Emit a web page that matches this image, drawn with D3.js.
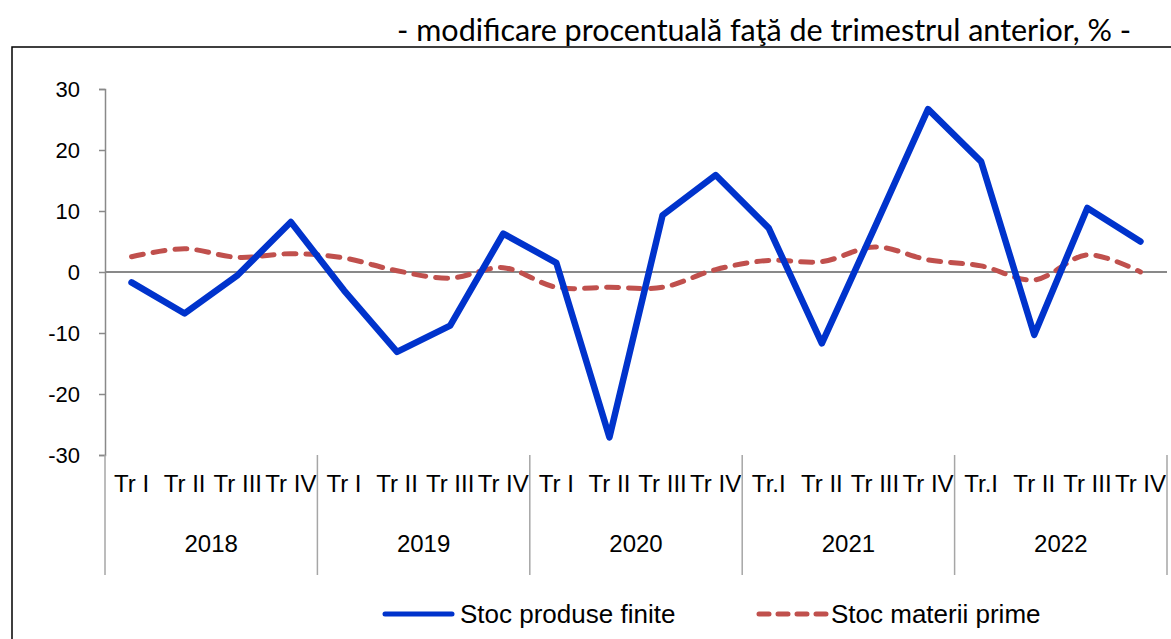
<!DOCTYPE html>
<html lang="ro">
<head>
<meta charset="utf-8">
<title>Stocuri</title>
<script src="https://d3js.org/d3.v7.min.js"></script>
<style>
  body { margin: 0; background: #fff; }
  svg { display: block; }
</style>
</head>
<body>
<svg id="chart" width="1171" height="639"></svg>
<script>
// data
var years = ["2018", "2019", "2020", "2021", "2022"];
var quarters = [
  ["Tr I", "Tr II", "Tr III", "Tr IV"],
  ["Tr I", "Tr II", "Tr III", "Tr IV"],
  ["Tr I", "Tr II", "Tr III", "Tr IV"],
  ["Tr.I", "Tr II", "Tr III", "Tr IV"],
  ["Tr.I", "Tr II", "Tr III", "Tr IV"]
];
var produseFinite = [-1.7, -6.8, -0.5, 8.2, -3.0, -13.1, -8.8, 6.3, 1.5, -27.1,
                     9.3, 15.9, 7.2, -11.7, 7.4, 26.7, 18.1, -10.3, 10.5, 5.0];
var materiiPrime = [2.5, 3.8, 2.4, 3.0, 2.3, 0.2, -1.0, 0.7, -2.5, -2.5,
                    -2.5, 0.4, 1.9, 1.7, 4.1, 2.0, 1.0, -1.3, 2.8, 0.0];
var yTicks = [-30, -20, -10, 0, 10, 20, 30];

var svg = d3.select("#chart");
var arial = "'Liberation Sans', Arial, sans-serif";

// keys for each category
var keys = [];
years.forEach(function(y, i) {
  quarters[i].forEach(function(q, j) { keys.push(y + "-" + j); });
});

var x = d3.scaleBand().domain(keys).range([105, 1167]);
var y = d3.scaleLinear().domain([-30, 30]).range([455, 89]);
var yearW = x.bandwidth() * 4;

// outer frame
svg.append("rect")
  .attr("x", 12).attr("y", 47)
  .attr("width", 1200).attr("height", 700)
  .attr("fill", "none").attr("stroke", "#000").attr("stroke-width", 1.5);

// title
svg.append("text")
  .attr("x", 1131).attr("y", 41)
  .attr("text-anchor", "end")
  .style("font-family", "Lato, 'Open Sans', sans-serif")
  .style("font-size", "30.5px")
  .attr("fill", "#000")
  .text("- modificare procentuală faţă de trimestrul anterior, %  -");

// y axis (plain hyphen for negatives, like the original)
var yAxis = d3.axisLeft(y).tickValues(yTicks).tickSize(6).tickPadding(19)
  .tickFormat(function(d) { return String(d); });
var gy = svg.append("g").attr("transform", "translate(105,0)").call(yAxis);
gy.select(".domain").attr("stroke", "#898989").attr("stroke-width", 1.5);
gy.selectAll(".tick line").attr("stroke", "#898989").attr("stroke-width", 1.5);
gy.selectAll(".tick text")
  .style("font-family", arial)
  .style("font-size", "22px")
  .attr("fill", "#000");

// zero line
svg.append("line")
  .attr("x1", 105).attr("x2", 1167)
  .attr("y1", y(0)).attr("y2", y(0))
  .attr("stroke", "#898989").attr("stroke-width", 2);

// category axis: quarter labels
var xg = svg.append("g");
xg.selectAll("text.q")
  .data(keys)
  .enter().append("text")
  .attr("class", "q")
  .attr("x", function(d) { return x(d) + x.bandwidth() / 2; })
  .attr("y", 492)
  .attr("text-anchor", "middle")
  .style("font-family", arial)
  .style("font-size", "24px")
  .attr("fill", "#000")
  .text(function(d) {
    var p = d.split("-");
    return quarters[years.indexOf(p[0])][+p[1]];
  });

// year labels
xg.selectAll("text.yr")
  .data(years)
  .enter().append("text")
  .attr("class", "yr")
  .attr("x", function(d, i) { return x(d + "-0") + yearW / 2; })
  .attr("y", 552)
  .attr("text-anchor", "middle")
  .style("font-family", arial)
  .style("font-size", "24px")
  .attr("fill", "#000")
  .text(function(d) { return d; });

// year separators
var seps = years.map(function(d) { return x(d + "-0"); }).concat([x.range()[1]]);
xg.selectAll("line.sep")
  .data(seps)
  .enter().append("line")
  .attr("class", "sep")
  .attr("x1", function(d) { return d; }).attr("x2", function(d) { return d; })
  .attr("y1", 455).attr("y2", 575)
  .attr("stroke", "#a6a6a6").attr("stroke-width", 1.5);

var cx = function(d, i) { return x(keys[i]) + x.bandwidth() / 2; };

// red dashed smoothed line
svg.append("path")
  .datum(materiiPrime)
  .attr("fill", "none")
  .attr("stroke", "#c0504d")
  .attr("stroke-width", 5)
  .attr("stroke-linecap", "round")
  .attr("stroke-dasharray", "12,10")
  .attr("d", d3.line().x(cx).y(function(d) { return y(d); }).curve(d3.curveCatmullRom.alpha(0.5)));

// blue line
svg.append("path")
  .datum(produseFinite)
  .attr("fill", "none")
  .attr("stroke", "#0033cc")
  .attr("stroke-width", 6.5)
  .attr("stroke-linecap", "round")
  .attr("stroke-linejoin", "round")
  .attr("d", d3.line().x(cx).y(function(d) { return y(d); }));

// legend
var lg = svg.append("g").style("font-family", arial).style("font-size", "26px");
lg.append("line").attr("x1", 385).attr("x2", 452).attr("y1", 614).attr("y2", 614)
  .attr("stroke", "#0033cc").attr("stroke-width", 5).attr("stroke-linecap", "round");
lg.append("text").attr("x", 460).attr("y", 623).attr("fill", "#000").text("Stoc produse finite");
lg.append("line").attr("x1", 759).attr("x2", 826).attr("y1", 614).attr("y2", 614)
  .attr("stroke", "#c0504d").attr("stroke-width", 5).attr("stroke-linecap", "round")
  .attr("stroke-dasharray", "10,9");
lg.append("text").attr("x", 831).attr("y", 623).attr("fill", "#000").text("Stoc materii prime");
</script>
</body>
</html>
